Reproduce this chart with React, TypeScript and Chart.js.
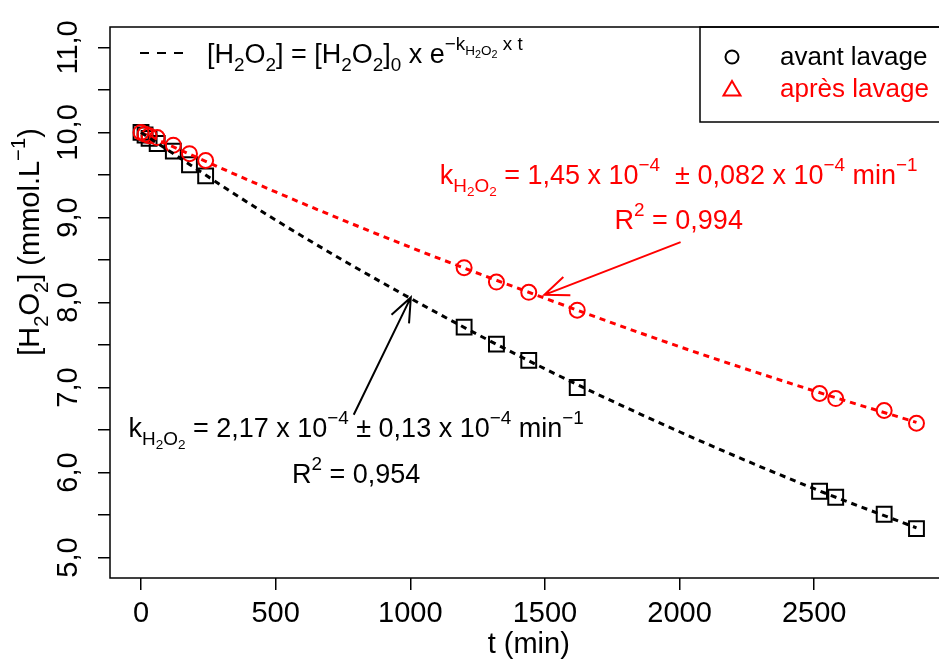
import React, { useEffect, useRef } from 'react';
import { Chart, registerables } from 'chart.js';

Chart.register(...registerables);

// ---- data ----
const timesMin = [0, 15, 30, 60, 120, 180, 240, 1200, 1320, 1440, 1620, 2520, 2580, 2760, 2880];
const avantLavage = [10.0, 9.97, 9.93, 9.87, 9.78, 9.62, 9.49, 7.71, 7.51, 7.32, 7.0, 5.78, 5.71, 5.51, 5.34];
const apresLavage = [10.0, 9.98, 9.96, 9.94, 9.85, 9.75, 9.67, 8.41, 8.24, 8.12, 7.91, 6.93, 6.87, 6.73, 6.58];
const fitTimes = [0, 500, 1000, 1500, 2000, 2500, 2880];
const fitAvant = [10.0, 8.97, 8.05, 7.22, 6.48, 5.81, 5.35];
const fitApres = [10.0, 9.3, 8.65, 8.05, 7.48, 6.96, 6.59];
const xTickValues = [0, 500, 1000, 1500, 2000, 2500];
const yTickValues = [5, 5.5, 6, 6.5, 7, 7.5, 8, 8.5, 9, 9.5, 10, 10.5, 11];
const legendLabels = ['avant lavage', 'après lavage'];
const xTitle = 't (min)';

// annotation anchors (data coordinates)
const blackArrow = { from: [790, 6.68], to: [1002, 8.06] };
const redArrow = { from: [2004, 8.71], to: [1498, 8.09] };
const blackTextAnchor = { t: 799, line1: 6.42, line2: 5.88 };
const redTextAnchor = { t: 1997, line1: 9.39, line2: 8.87 };

const FAM = '"Liberation Sans", Arial, Helvetica, sans-serif';

type Seg = [string, number, number]; // text, size factor, dy (in F units; + is down)
const N = (t: string): Seg => [t, 1, 0];
const SUB = (t: string): Seg => [t, 0.7, 0.3];
const SUB2 = (t: string): Seg => [t, 0.5, 0.45];
const SUP = (t: string): Seg => [t, 0.7, -0.48];
const SUPSUB = (t: string): Seg => [t, 0.5, -0.3];
const SUPSUB2 = (t: string): Seg => [t, 0.4, -0.2];

function richWidth(ctx: CanvasRenderingContext2D, segs: Seg[], F: number) {
  let w = 0;
  for (const [t, s] of segs) {
    ctx.font = `${F * s}px ${FAM}`;
    w += ctx.measureText(t).width;
  }
  return w;
}

function drawRich(
  ctx: CanvasRenderingContext2D,
  segs: Seg[],
  x: number,
  y: number,
  F: number,
  color: string,
  align: 'left' | 'center'
) {
  const w = richWidth(ctx, segs, F);
  let cx = align === 'center' ? x - w / 2 : x;
  ctx.fillStyle = color;
  ctx.textAlign = 'left';
  ctx.textBaseline = 'alphabetic';
  for (const [t, s, dy] of segs) {
    ctx.font = `${F * s}px ${FAM}`;
    ctx.fillText(t, cx, y + dy * F);
    cx += ctx.measureText(t).width;
  }
}

function drawArrow(ctx: CanvasRenderingContext2D, x1: number, y1: number, x2: number, y2: number, color: string) {
  const L = 26;
  const a = (22 * Math.PI) / 180;
  const ang = Math.atan2(y1 - y2, x1 - x2);
  ctx.save();
  ctx.strokeStyle = color;
  ctx.lineWidth = 2;
  ctx.beginPath();
  ctx.moveTo(x1, y1);
  ctx.lineTo(x2, y2);
  ctx.moveTo(x2 + L * Math.cos(ang + a), y2 + L * Math.sin(ang + a));
  ctx.lineTo(x2, y2);
  ctx.lineTo(x2 + L * Math.cos(ang - a), y2 + L * Math.sin(ang - a));
  ctx.stroke();
  ctx.restore();
}

const decorPlugin = {
  id: 'decor',
  afterDraw(chart: any) {
    const ctx: CanvasRenderingContext2D = chart.ctx;
    const { left, right, top, bottom } = chart.chartArea;
    const xs = chart.scales.x;
    const ys = chart.scales.y;
    ctx.save();

    // box
    ctx.strokeStyle = '#000';
    ctx.lineWidth = 1.5;
    ctx.strokeRect(left, top, right - left, bottom - top);

    // x tick labels
    ctx.fillStyle = '#000';
    ctx.font = `29px ${FAM}`;
    ctx.textAlign = 'center';
    ctx.textBaseline = 'alphabetic';
    for (const tk of xs.ticks) {
      ctx.fillText(String(tk.value), xs.getPixelForValue(tk.value), bottom + 44);
    }
    // y tick labels (rotated, integers only)
    for (const tk of ys.ticks) {
      if (Math.abs(tk.value - Math.round(tk.value)) > 1e-6) continue;
      const py = ys.getPixelForValue(tk.value);
      ctx.save();
      ctx.translate(left - 33, py);
      ctx.rotate(-Math.PI / 2);
      ctx.font = `29px ${FAM}`;
      ctx.textAlign = 'center';
      ctx.textBaseline = 'alphabetic';
      ctx.fillText(tk.value.toFixed(1).replace('.', ','), 0, 0);
      ctx.restore();
    }

    // axis titles
    ctx.font = `29px ${FAM}`;
    ctx.textAlign = 'center';
    ctx.fillText(xTitle, (left + right) / 2, bottom + 75);

    ctx.save();
    ctx.translate(39, 242);
    ctx.rotate(-Math.PI / 2);
    drawRich(
      ctx,
      [N('[H'), SUB('2'), N('O'), SUB('2'), N('] (mmol.L'), SUP('\u22121'), N(')')],
      0,
      0,
      29,
      '#000',
      'center'
    );
    ctx.restore();

    // equation legend (top left)
    ctx.save();
    ctx.strokeStyle = '#000';
    ctx.lineWidth = 2;
    ctx.setLineDash([9, 8]);
    ctx.beginPath();
    ctx.moveTo(140, 53);
    ctx.lineTo(190, 53);
    ctx.stroke();
    ctx.restore();
    drawRich(
      ctx,
      [
        N('[H'), SUB('2'), N('O'), SUB('2'), N('] = [H'), SUB('2'), N('O'), SUB('2'), N(']'), SUB('0'),
        N(' x e'), SUP('\u2212k'), SUPSUB('H'), SUPSUB2('2'), SUPSUB('O'), SUPSUB2('2'), SUP(' x t'),
      ],
      207,
      63,
      27,
      '#000',
      'left'
    );

    // legend box (top right)
    ctx.strokeStyle = '#000';
    ctx.lineWidth = 1.5;
    ctx.strokeRect(700, top, right - 700, 95);
    ctx.lineWidth = 2;
    ctx.beginPath();
    ctx.arc(732, 57, 6.5, 0, Math.PI * 2);
    ctx.stroke();
    ctx.strokeStyle = '#ff0000';
    ctx.beginPath();
    ctx.moveTo(732, 81);
    ctx.lineTo(740.5, 95.5);
    ctx.lineTo(723.5, 95.5);
    ctx.closePath();
    ctx.stroke();
    ctx.font = `26px ${FAM}`;
    ctx.textAlign = 'left';
    ctx.fillStyle = '#000';
    ctx.fillText(legendLabels[0], 780, 65);
    ctx.fillStyle = '#ff0000';
    ctx.fillText(legendLabels[1], 780, 97);

    // annotations
    const kSeg = (val: string, err: string, gap: string): Seg[] => [
      N('k'), SUB('H'), SUB2('2'), SUB('O'), SUB2('2'),
      N(' = ' + val + ' x 10'), SUP('\u22124'), N(gap + '\u00b1 ' + err + ' x 10'), SUP('\u22124'), N(' min'), SUP('\u22121'),
    ];
    const r2Seg = (v: string): Seg[] => [N('R'), SUP('2'), N(' = ' + v)];

    const rx = xs.getPixelForValue(redTextAnchor.t);
    drawRich(ctx, kSeg('1,45', '0,082', '  '), rx, ys.getPixelForValue(redTextAnchor.line1), 27, '#ff0000', 'center');
    drawRich(ctx, r2Seg('0,994'), rx, ys.getPixelForValue(redTextAnchor.line2), 27, '#ff0000', 'center');

    const bx = xs.getPixelForValue(blackTextAnchor.t);
    drawRich(ctx, kSeg('2,17', '0,13', ' '), bx, ys.getPixelForValue(blackTextAnchor.line1), 27, '#000', 'center');
    drawRich(ctx, r2Seg('0,954'), bx, ys.getPixelForValue(blackTextAnchor.line2), 27, '#000', 'center');

    drawArrow(
      ctx,
      xs.getPixelForValue(blackArrow.from[0]), ys.getPixelForValue(blackArrow.from[1]),
      xs.getPixelForValue(blackArrow.to[0]), ys.getPixelForValue(blackArrow.to[1]),
      '#000'
    );
    drawArrow(
      ctx,
      xs.getPixelForValue(redArrow.from[0]), ys.getPixelForValue(redArrow.from[1]),
      xs.getPixelForValue(redArrow.to[0]), ys.getPixelForValue(redArrow.to[1]),
      '#ff0000'
    );

    ctx.restore();
  },
};

export default function App() {
  const ref = useRef<HTMLCanvasElement | null>(null);
  useEffect(() => {
    if (!ref.current) return;
    const pts = (xs: number[], ys: number[]) => xs.map((x, i) => ({ x, y: ys[i] }));
    const chart = new Chart(ref.current, {
      type: 'scatter',
      data: {
        datasets: [
          {
            label: 'fit avant',
            data: pts(fitTimes, fitAvant),
            showLine: true,
            borderColor: '#000',
            borderWidth: 3,
            borderDash: [6, 5],
            pointRadius: 0,
            cubicInterpolationMode: 'monotone',
            fill: false,
          },
          {
            label: 'fit après',
            data: pts(fitTimes, fitApres),
            showLine: true,
            borderColor: '#ff0000',
            borderWidth: 3,
            borderDash: [6, 5],
            pointRadius: 0,
            cubicInterpolationMode: 'monotone',
            fill: false,
          },
          {
            label: legendLabels[1],
            data: pts(timesMin, apresLavage),
            showLine: false,
            pointStyle: 'circle',
            pointRadius: 7.5,
            borderWidth: 2,
            borderColor: '#ff0000',
            backgroundColor: 'rgba(0,0,0,0)',
          },
          {
            label: legendLabels[0],
            data: pts(timesMin, avantLavage),
            showLine: false,
            pointStyle: 'rect',
            pointRadius: 10.5,
            borderWidth: 2,
            borderColor: '#000',
            backgroundColor: 'rgba(0,0,0,0)',
          },
        ],
      } as any,
      options: {
        animation: false,
        responsive: false,
        devicePixelRatio: 1,
        layout: { padding: { left: 0, top: 27, right: 9, bottom: 0 } },
        plugins: { legend: { display: false }, tooltip: { enabled: false } },
        scales: {
          x: {
            type: 'linear',
            min: -115.2,
            max: 2995.2,
            ticks: { display: false },
            afterBuildTicks: (s: any) => {
              s.ticks = xTickValues.map((v) => ({ value: v }));
            },
            grid: { drawOnChartArea: false, drawTicks: true, tickLength: 12, color: '#000', lineWidth: 1.5 },
            border: { display: false },
            afterFit: (s: any) => { s.height = 81; },
          },
          y: {
            type: 'linear',
            min: 4.76,
            max: 11.24,
            ticks: { display: false },
            afterBuildTicks: (s: any) => {
              s.ticks = yTickValues.map((v) => ({ value: v }));
            },
            grid: { drawOnChartArea: false, drawTicks: true, tickLength: 12, color: '#000', lineWidth: 1.5 },
            border: { display: false },
            afterFit: (s: any) => { s.width = 110; },
          },
        },
      } as any,
      plugins: [decorPlugin],
    });
    return () => chart.destroy();
  }, []);

  return (
    <div
      style={{
        position: 'fixed',
        left: 0,
        top: 0,
        width: 939,
        height: 659,
        overflow: 'hidden',
        background: '#fff',
      }}
    >
      <canvas ref={ref} width={960} height={659} style={{ width: 960, height: 659, display: 'block' }} />
    </div>
  );
}
